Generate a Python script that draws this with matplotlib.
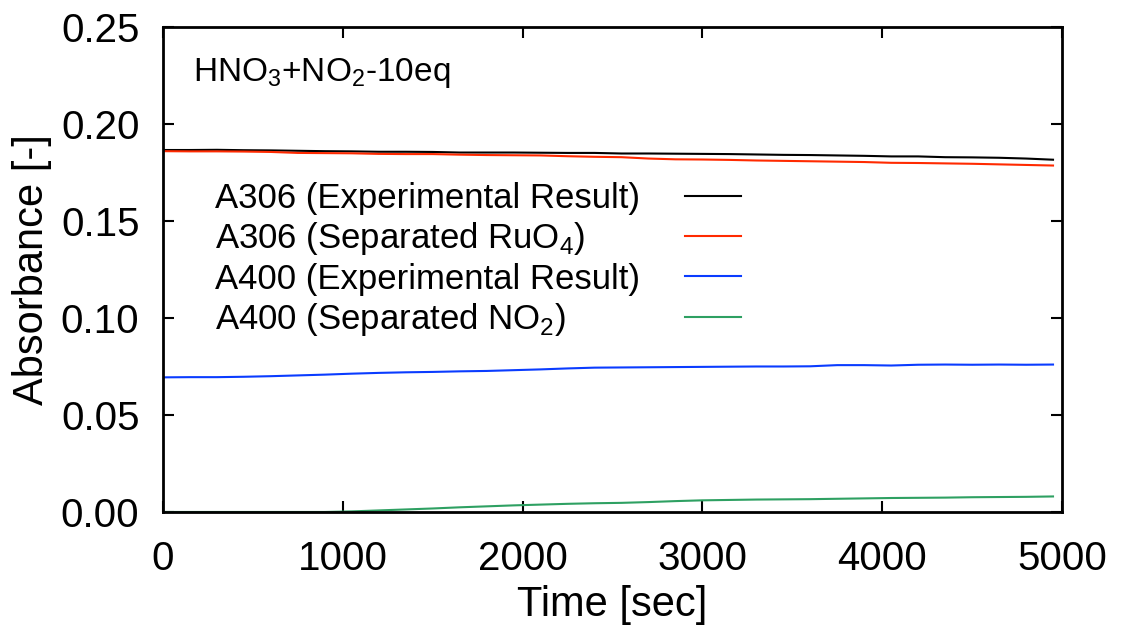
import matplotlib.pyplot as plt
from matplotlib.ticker import FormatStrFormatter

plt.rcParams['font.family'] = ['Liberation Sans', 'DejaVu Sans']
plt.rcParams['mathtext.fontset'] = 'custom'
plt.rcParams['mathtext.rm'] = 'Liberation Sans'

# 時間 [sec]
t = [0, 150, 300, 450, 600, 750, 900, 1050, 1200, 1350, 1500, 1650,
     1800, 1950, 2100, 2250, 2400, 2550, 2700, 2850, 3000, 3150, 3300,
     3450, 3600, 3750, 3900, 4050, 4200, 4350, 4500, 4650, 4800, 4950]

# A306 実測値
a306_exp = [0.1866, 0.1866, 0.1867, 0.1865, 0.1864, 0.1862, 0.1860, 0.1859,
            0.1857, 0.1857, 0.1856, 0.1853, 0.1853, 0.1853, 0.1852, 0.1851,
            0.1851, 0.1848, 0.1848, 0.1847, 0.1846, 0.1845, 0.1843, 0.1841,
            0.1840, 0.1838, 0.1836, 0.1833, 0.1833, 0.1829, 0.1828, 0.1826,
            0.1822, 0.1816]
# A306 RuO4分離
a306_ruo4 = [0.1860, 0.1859, 0.1859, 0.1858, 0.1856, 0.1851, 0.1850, 0.1849,
             0.1846, 0.1845, 0.1845, 0.1842, 0.1840, 0.1839, 0.1838, 0.1834,
             0.1831, 0.1829, 0.1822, 0.1818, 0.1817, 0.1815, 0.1812, 0.1810,
             0.1808, 0.1806, 0.1804, 0.1800, 0.1799, 0.1797, 0.1795, 0.1792,
             0.1789, 0.1786]
# A400 実測値
a400_exp = [0.0694, 0.0695, 0.0695, 0.0697, 0.0700, 0.0704, 0.0708, 0.0713,
            0.0717, 0.0720, 0.0722, 0.0725, 0.0727, 0.0731, 0.0735, 0.0740,
            0.0744, 0.0745, 0.0746, 0.0747, 0.0748, 0.0749, 0.0750, 0.0750,
            0.0751, 0.0757, 0.0757, 0.0755, 0.0759, 0.0760, 0.0759, 0.0760,
            0.0759, 0.0760]
# A400 NO2分離
a400_no2 = [0.0000, 0.0000, 0.0000, 0.0000, 0.0000, 0.0000, 0.0000, 0.0003,
            0.0008, 0.0013, 0.0018, 0.0024, 0.0029, 0.0034, 0.0038, 0.0042,
            0.0045, 0.0047, 0.0051, 0.0056, 0.0060, 0.0062, 0.0064, 0.0065,
            0.0066, 0.0068, 0.0070, 0.0072, 0.0073, 0.0074, 0.0076, 0.0077,
            0.0078, 0.0080]

fig = plt.figure(figsize=(11.25, 6.33), dpi=100)
ax = fig.add_axes([0.1449, 0.1912, 0.7991, 0.7661])

lw = 1.5
ax.plot(t, a306_exp, color='black', lw=lw, label='A306 (Experimental Result)')
ax.plot(t, a306_ruo4, color='#ff2a00', lw=lw, label='A306 (Separated RuO$_4$)')
ax.plot(t, a400_exp, color='#0a3cff', lw=lw, label='A400 (Experimental Result)')
ax.plot(t, a400_no2, color='#2ea062', lw=lw, label='A400 (Separated NO$_2$)')

ax.set_xlim(0, 5000)
ax.set_ylim(0, 0.25)
ax.set_xticks([0, 1000, 2000, 3000, 4000, 5000])
ax.set_yticks([0, 0.05, 0.10, 0.15, 0.20, 0.25])
ax.yaxis.set_major_formatter(FormatStrFormatter('%.2f'))
ax.tick_params(direction='in', length=8, width=1.5, top=True, right=True,
               labelsize=29)
ax.tick_params(axis='x', pad=20)
ax.tick_params(axis='y', pad=17)
for s in ax.spines.values():
    s.set_linewidth(2)

ax.set_xlabel('Time [sec]', fontsize=30, labelpad=5)
ax.set_ylabel('Absorbance [-]', fontsize=30, labelpad=6)

ax.text(0.033, 0.905, 'HNO$_3$+NO$_2$-10eq', transform=ax.transAxes,
        fontsize=24, va='center', ha='left')

# 凡例: ラベル左揃え、線は右側
fs_leg = 25
leg = ax.legend(loc='upper left', bbox_to_anchor=(0.058, 0.68), frameon=False,
                markerfirst=False, fontsize=fs_leg, handlelength=1.6,
                handletextpad=1.3, labelspacing=0.15, borderpad=0,
                borderaxespad=0)
fig.canvas.draw()
renderer = fig.canvas.get_renderer()
col = leg._legend_handle_box.get_children()[0]
col.align = 'left'
widths = [txt.get_window_extent(renderer).width for txt in leg.get_texts()]
wmax = max(widths)
gap = 1.3 * fs_leg
for row, w in zip(col.get_children(), widths):
    row.sep = gap + (wmax - w) * 72 / fig.dpi

fig.savefig('out.png')
